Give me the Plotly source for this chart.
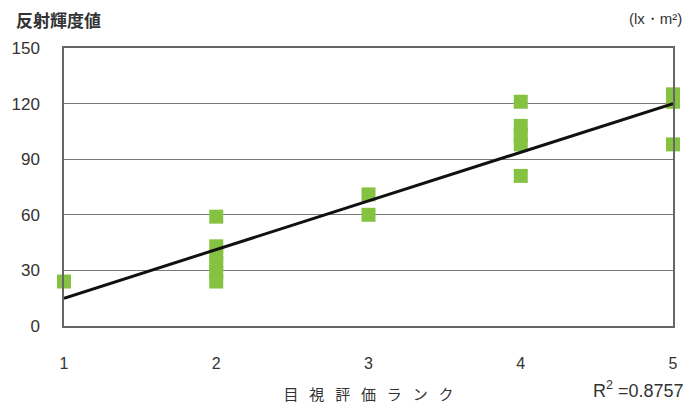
import plotly.graph_objects as go

# Data
rank_x = [1, 2, 2, 2, 2, 2, 2, 3, 3, 4, 4, 4, 4, 4, 5, 5, 5]
reflect_y = [24, 24, 29, 34, 38, 43, 59, 60, 71, 81, 98, 103, 108, 121, 98, 121, 125]
fit_x = [1, 5]
fit_y = [15, 120]
x_ticks = [1, 2, 3, 4, 5]
y_ticks = [0, 30, 60, 90, 120, 150]

GREEN = "#86c241"
AXIS = "#666666"
TXT = "#333333"
NUM_FONT = "Liberation Sans, Arial, sans-serif"
JP_FONT = "Noto Sans CJK JP, sans-serif"

SP = " \u2002"
x_title = SP.join(list("目視評価ランク"))

fig = go.Figure()
fig.add_trace(go.Scatter(
    x=rank_x, y=reflect_y, mode="markers",
    marker=dict(symbol="square", size=14, color=GREEN, line=dict(width=0)),
    cliponaxis=False, showlegend=False, hoverinfo="skip"))
fig.add_trace(go.Scatter(
    x=fit_x, y=fit_y, mode="lines",
    line=dict(color="#111111", width=3),
    cliponaxis=False, showlegend=False, hoverinfo="skip"))

fig.update_layout(
    width=693, height=404,
    margin=dict(l=64, r=20, t=48, b=78),
    paper_bgcolor="white", plot_bgcolor="white",
    font=dict(family=NUM_FONT, size=16, color=TXT),
    xaxis=dict(
        range=[1, 5], tickvals=x_ticks, ticktext=[str(v) for v in x_ticks],
        showgrid=False, zeroline=False, ticks="",
        showline=True, linecolor=AXIS, linewidth=1.5, mirror=True,
        ticklabelstandoff=22, automargin=False,
        tickfont=dict(family=NUM_FONT, size=16, color=TXT),
        title=dict(text=x_title, standoff=21,
                   font=dict(family=JP_FONT, size=15, color=TXT)),
    ),
    yaxis=dict(
        range=[0, 150], tickvals=y_ticks, ticktext=[str(v) for v in y_ticks],
        showgrid=True, gridcolor="#7a7a7a", gridwidth=1,
        zeroline=False, ticks="",
        showline=True, linecolor=AXIS, linewidth=1.5, mirror=True,
        ticklabelstandoff=19, automargin=False,
        tickfont=dict(family=NUM_FONT, size=17, color=TXT),
    ),
    annotations=[
        dict(text="<b>反射輝度値</b>", xref="paper", yref="paper",
             x=(14-64)/609, y=(326-20)/278, xanchor="left", yanchor="middle",
             showarrow=False, font=dict(family=JP_FONT, size=17, color=TXT)),
        dict(text="(lx・m²)", xref="paper", yref="paper",
             x=(684-64)/609, y=(326-19)/278, xanchor="right", yanchor="middle",
             showarrow=False, font=dict(family=NUM_FONT, size=15, color=TXT)),
        dict(text="R<sup>2</sup> =0.8757", xref="paper", yref="paper",
             x=(686-64)/609, y=(326-389)/278, xanchor="right", yanchor="middle",
             showarrow=False, font=dict(family=NUM_FONT, size=18, color=TXT)),
    ],
)

fig.write_html("out.html")
